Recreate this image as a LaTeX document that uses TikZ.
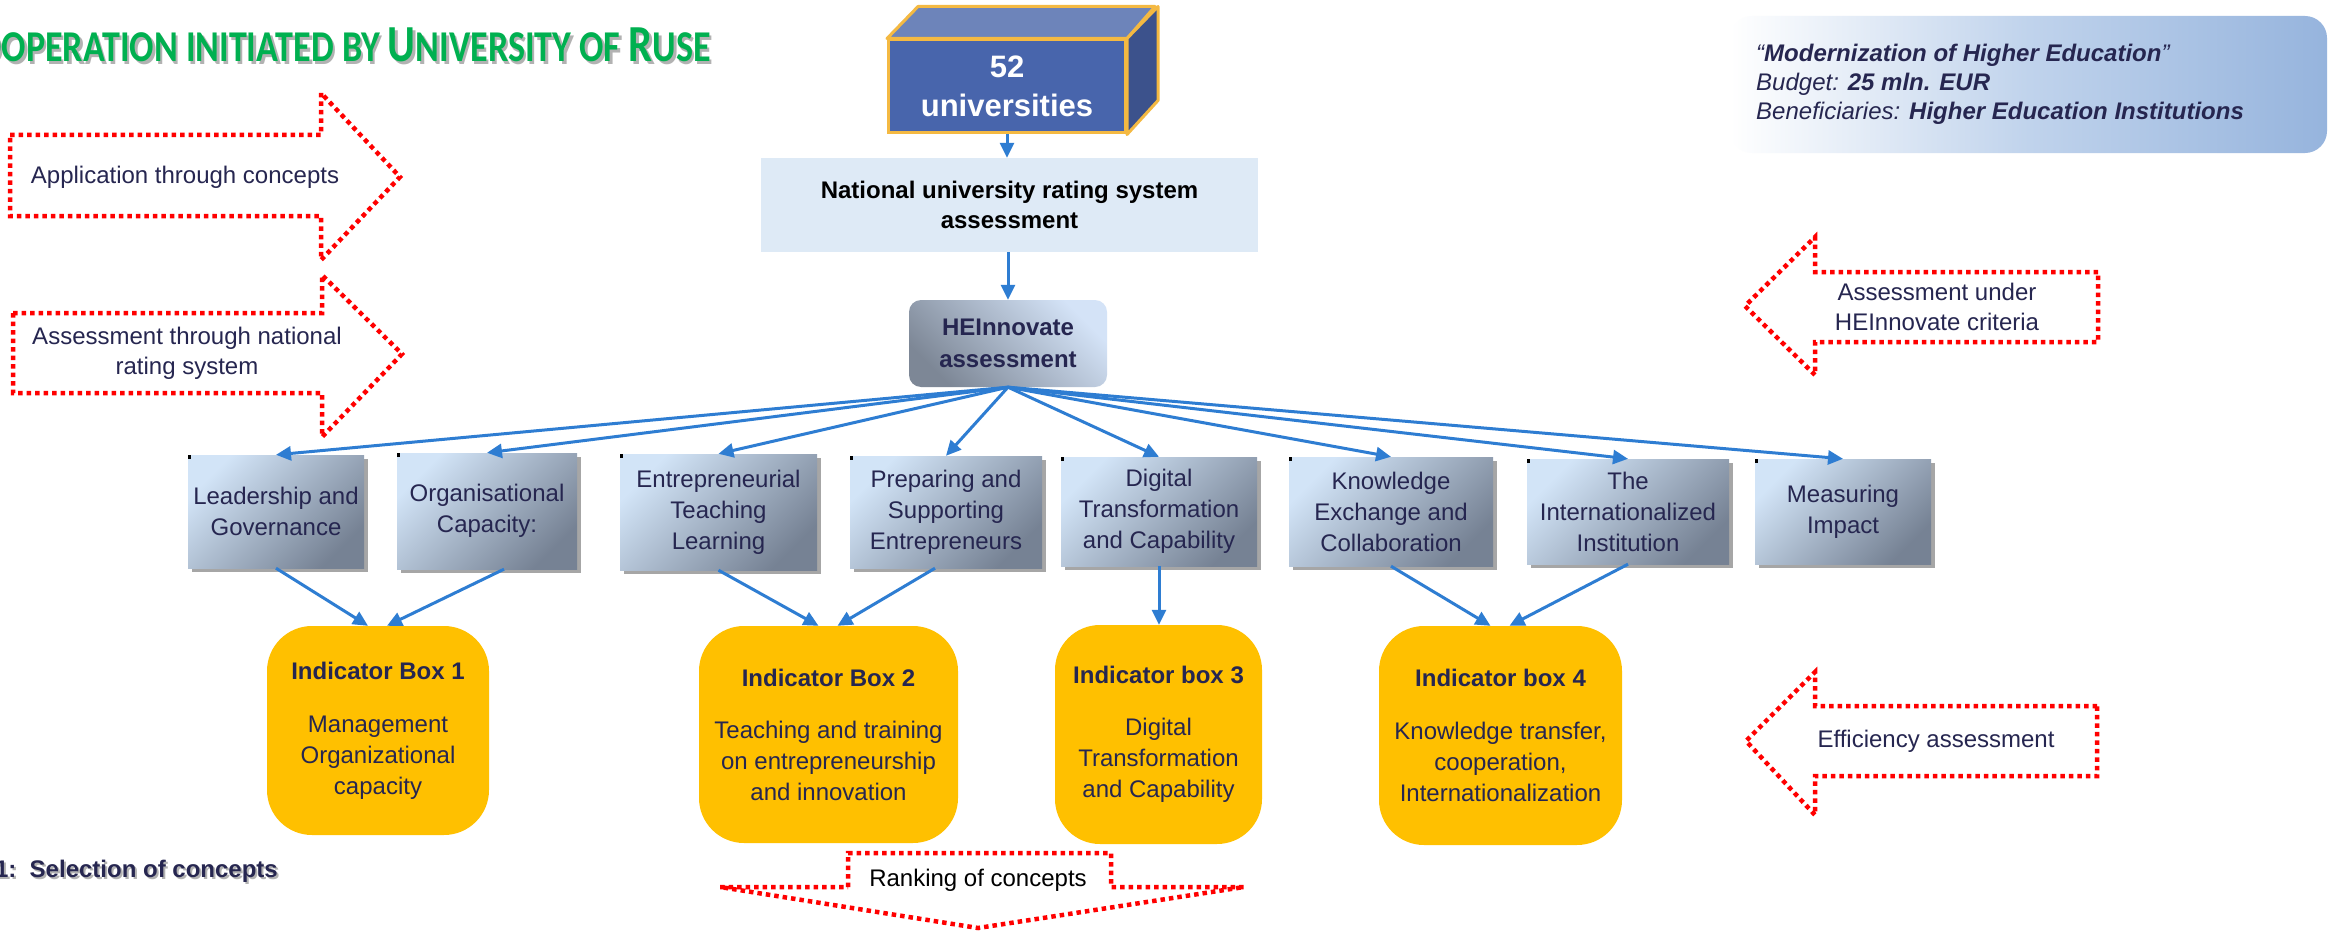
\documentclass[tikz,border=0pt]{standalone}
\usepackage{fontspec}
\usepackage{graphicx}
\setmainfont{Liberation Sans}
\newfontfamily\titlefont{Carlito}
\usetikzlibrary{arrows.meta,shadows,calc}
\definecolor{navy}{RGB}{38,38,80}
\definecolor{arrowblue}{RGB}{46,125,210}
\definecolor{cboxlight}{RGB}{210,228,247}
\definecolor{cboxdark}{RGB}{118,130,148}
\definecolor{hedark}{RGB}{125,135,150}
\definecolor{helight}{RGB}{212,227,247}
\definecolor{gold}{RGB}{255,192,0}
\definecolor{titlegreen}{RGB}{0,176,80}
\definecolor{natfill}{RGB}{222,234,246}
\definecolor{cubefront}{RGB}{72,101,172}
\definecolor{cubetop}{RGB}{109,132,186}
\definecolor{cubeside}{RGB}{60,82,140}
\definecolor{cubeedge}{RGB}{244,185,66}
\definecolor{modmid}{RGB}{192,211,236}
\definecolor{modright}{RGB}{150,180,221}
\newcommand{\tbig}[1]{{\fontsize{52}{52}\selectfont #1}}
\newcommand{\tsmall}[1]{{\fontsize{44}{44}\selectfont #1}}
\newcommand{\titletext}{\titlefont\bfseries\tbig{C}\tsmall{OOPERATION INITIATED BY }\tbig{U}\tsmall{NIVERSITY OF }\tbig{R}\tsmall{USE}}
\begin{document}
\begin{tikzpicture}[x=1pt,y=-1pt,
  txt/.style={font=\fontsize{24}{30}\selectfont, text=navy, align=center, inner sep=0pt},
  conn/.style={draw=arrowblue, line width=3pt, -{Triangle[length=15pt,width=14pt]}},
  reddot/.style={draw=red, line width=4.5pt, dash pattern=on 4.5pt off 4pt},
  concept/.style={txt, font=\fontsize{24}{31}\selectfont, left color=cboxlight, right color=cboxdark, shading angle=45,
    drop shadow={shadow xshift=4pt, shadow yshift=-4pt, opacity=0.35, fill=black}},
  indic/.style={txt, font=\fontsize{24}{31}\selectfont, fill=gold, rounded corners=45pt},
  corner/.style={fill=black}
]
\fill[white] (0,0) rectangle (2331,931);
\useasboundingbox (0,0) rectangle (2331,931);

% title
\node[anchor=base east, inner sep=0pt, text=black!30] (titleshadow) at (713.5,64.5) {\scalebox{0.82}[1]{\titletext}};
\node[anchor=base east, inner sep=0pt, text=titlegreen] (title) at (711,62) {\scalebox{0.82}[1]{\titletext}};

% step label
\node[anchor=base east, inner sep=0pt, text=black!30, font=\bfseries\fontsize{24}{30}\selectfont] (stepshadow) at (280,879) {1:~~Selection of concepts};
\node[anchor=base east, inner sep=0pt, text=navy, font=\bfseries\fontsize{24}{30}\selectfont] (step1) at (278,877) {1:~~Selection of concepts};

% left red arrows
\draw[reddot] (10,135) -- (321,135) -- (321,93) -- (400,177) -- (321,260) -- (321,216) -- (10,216) -- cycle;
\node[txt] (app) at (185,177) {Application through concepts};
\draw[reddot] (13,313) -- (322,313) -- (322,275) -- (402,354) -- (322,437) -- (322,393) -- (13,393) -- cycle;
\node[txt] (assnat) at (187,353) {Assessment through national\\rating system};

% right red arrows
\draw[reddot] (2098,272) -- (1815,272) -- (1815,237) -- (1745,306) -- (1815,375) -- (1815,342) -- (2098,342) -- cycle;
\node[txt] (asshe) at (1937,307) {Assessment under\\HEInnovate criteria};
\draw[reddot] (2097,706) -- (1815,706) -- (1815,672) -- (1746,741) -- (1815,815) -- (1815,776) -- (2097,776) -- cycle;
\node[txt] (eff) at (1936,741) {Efficiency assessment};

% ranking arrow
\draw[reddot] (848,887) -- (848,853) -- (1111,853) -- (1111,887) -- (1244,887) -- (978,928) -- (720,887) -- cycle;
\node[txt, text=black] (rank) at (978,880) {Ranking of concepts};

% modernization box
\node[rounded corners=22pt, left color=white, right color=modright, middle color=modmid, minimum width=597pt, minimum height=137pt, inner sep=0pt] (mod) at (2028.5,84.5) {};
\node[anchor=west, txt, align=left, font=\itshape\fontsize{24}{29}\selectfont] (modtext) at (1756,84) {%
“\textbf{Modernization of Higher Education}”\\
Budget: \textbf{25 mln. EUR}\\
Beneficiaries: \textbf{Higher Education Institutions}};

% cube
\node[draw=cubeedge, line width=3pt, fill=cubefront, text=white, font=\bfseries\fontsize{31}{39}\selectfont, align=center, minimum width=237pt, minimum height=93pt, inner sep=0pt] (unis) at (1007,86.5) {52\\universities};
\draw[cubeedge, line width=3pt, line join=round, fill=cubetop] (unis.north west) -- ++(31,-32) -- ++(237,0) -- (unis.north east) -- cycle;
\draw[cubeedge, line width=3pt, line join=round, fill=cubeside] (unis.north east) -- ++(31,-32) -- ++(0,94) -- (unis.south east) -- cycle;

% national
\node[fill=natfill, font=\bfseries\fontsize{24}{30}\selectfont, align=center, minimum width=497pt, minimum height=94pt, inner sep=0pt] (nat) at (1009.5,205) {National university rating system\\assessment};

% HEInnovate
\node[txt, font=\bfseries\fontsize{24}{32}\selectfont, left color=hedark, right color=helight, shading angle=135, rounded corners=12pt, minimum width=198pt, minimum height=87pt] (he) at (1008,343.5) {HEInnovate\\assessment};

% concept boxes
\node[concept, minimum width=176pt, minimum height=113pt] (b1) at (276,511.5) {Leadership and\\Governance};
\node[concept, minimum width=180pt, minimum height=116pt] (b2) at (487,511) {Organisational\\Capacity:};
\node[concept, minimum width=197pt, minimum height=116pt] (b3) at (718.5,512) {Entrepreneurial\\Teaching\\Learning};
\node[concept, minimum width=192pt, minimum height=112pt] (b4) at (946,512) {Preparing and\\Supporting\\Entrepreneurs};
\node[concept, minimum width=196pt, minimum height=109pt] (b5) at (1159,511.5) {Digital\\Transformation\\and Capability};
\node[concept, minimum width=204pt, minimum height=109pt] (b6) at (1391,511.5) {Knowledge\\Exchange and\\Collaboration};
\node[concept, minimum width=202pt, minimum height=105pt] (b7) at (1628,511.5) {The\\Internationalized\\Institution};
\node[concept, minimum width=176pt, minimum height=105pt] (b8) at (1843,511.5) {Measuring\\Impact};
\foreach \i in {1,...,8} \fill[corner] (b\i.north west) rectangle ++(3,4);

% indicator boxes
\node[indic, minimum width=222pt, minimum height=209pt] (ib1) at (378,730.5) {\textbf{Indicator Box 1}\\[22pt]Management\\Organizational\\capacity};
\node[indic, minimum width=259pt, minimum height=217pt] (ib2) at (828.5,734.5) {\textbf{Indicator Box 2}\\[21pt]Teaching and training\\on entrepreneurship\\and innovation};
\node[indic, minimum width=207pt, minimum height=219pt] (ib3) at (1158.5,734.5) {\textbf{Indicator box 3}\\[21pt]Digital\\Transformation\\and Capability};
\node[indic, minimum width=243pt, minimum height=219pt] (ib4) at (1500.5,735.5) {\textbf{Indicator box 4}\\[22pt]Knowledge transfer,\\cooperation,\\Internationalization};

% connectors
\draw[conn] (unis.south) -- (unis.south |- nat.north);
\draw[conn] (nat.south -| he.north) -- (he.north);
\foreach \i in {1,...,8} \draw[conn] (he.south) -- (b\i.north);
\draw[conn] (b1.south) -- ([xshift=-10pt]ib1.north);
\draw[conn] ([xshift=17pt]b2.south) -- ([xshift=9pt]ib1.north);
\draw[conn] (b3.south) -- ([xshift=-10pt]ib2.north);
\draw[conn] ([xshift=-11pt]b4.south) -- ([xshift=9pt]ib2.north);
\draw[conn] (b5.south) -- (b5.south |- ib3.north);
\draw[conn] (b6.south) -- ([xshift=-10pt]ib4.north);
\draw[conn] (b7.south) -- ([xshift=9pt]ib4.north);
\end{tikzpicture}
\end{document}
